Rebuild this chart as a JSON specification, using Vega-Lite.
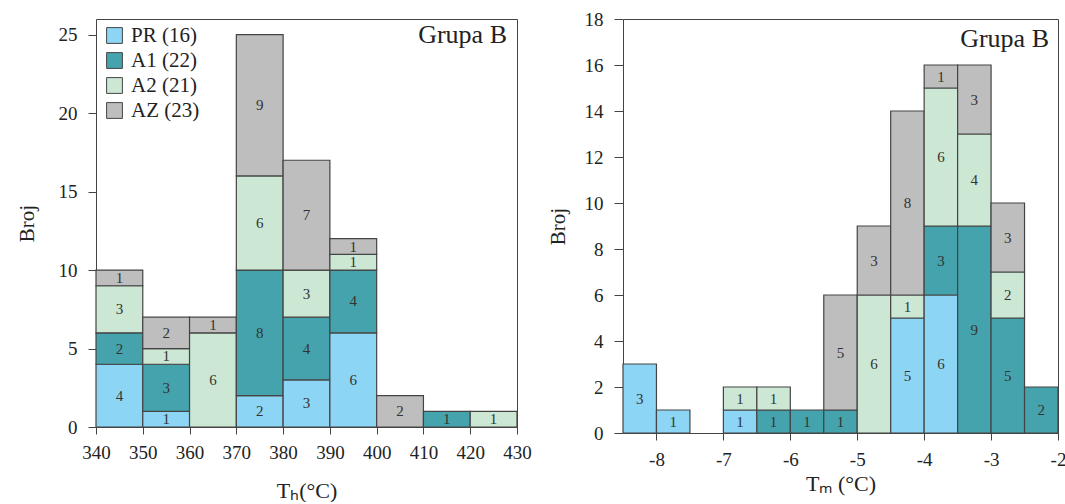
{
  "$schema": "https://vega.github.io/schema/vega-lite/v6.json",
  "background": "white",
  "padding": {"left": 15, "top": 9, "right": 0, "bottom": 0},
  "config": {
    "font": "Liberation Serif, Times New Roman, serif",
    "view": {"stroke": "#444", "strokeWidth": 1},
    "axis": {
      "grid": false,
      "domain": false,
      "labelFlush": false,
      "labelOverlap": false,
      "tickColor": "#444",
      "tickWidth": 1,
      "labelColor": "#222",
      "titleColor": "#222",
      "labelFont": "Liberation Serif, Times New Roman, serif",
      "titleFont": "Liberation Serif, Times New Roman, serif",
      "labelFontSize": 19,
      "titleFontSize": 22,
      "titleFontWeight": "normal"
    },
    "text": {"font": "Liberation Serif, Times New Roman, serif"},
    "legend": {
      "labelFont": "Liberation Serif, Times New Roman, serif",
      "labelFontSize": 21,
      "labelColor": "#222",
      "symbolType": "square",
      "symbolSize": 250,
      "symbolStrokeColor": "#444",
      "symbolStrokeWidth": 1,
      "symbolOpacity": 1,
      "rowPadding": 3,
      "labelOffset": 6,
      "padding": 0
    }
  },
  "datasets": {
    "th": [
      {"start": 340, "end": 350, "g": "PR (16)", "n": 4},
      {"start": 340, "end": 350, "g": "A1 (22)", "n": 2},
      {"start": 340, "end": 350, "g": "A2 (21)", "n": 3},
      {"start": 340, "end": 350, "g": "AZ (23)", "n": 1},
      {"start": 350, "end": 360, "g": "PR (16)", "n": 1},
      {"start": 350, "end": 360, "g": "A1 (22)", "n": 3},
      {"start": 350, "end": 360, "g": "A2 (21)", "n": 1},
      {"start": 350, "end": 360, "g": "AZ (23)", "n": 2},
      {"start": 360, "end": 370, "g": "A2 (21)", "n": 6},
      {"start": 360, "end": 370, "g": "AZ (23)", "n": 1},
      {"start": 370, "end": 380, "g": "PR (16)", "n": 2},
      {"start": 370, "end": 380, "g": "A1 (22)", "n": 8},
      {"start": 370, "end": 380, "g": "A2 (21)", "n": 6},
      {"start": 370, "end": 380, "g": "AZ (23)", "n": 9},
      {"start": 380, "end": 390, "g": "PR (16)", "n": 3},
      {"start": 380, "end": 390, "g": "A1 (22)", "n": 4},
      {"start": 380, "end": 390, "g": "A2 (21)", "n": 3},
      {"start": 380, "end": 390, "g": "AZ (23)", "n": 7},
      {"start": 390, "end": 400, "g": "PR (16)", "n": 6},
      {"start": 390, "end": 400, "g": "A1 (22)", "n": 4},
      {"start": 390, "end": 400, "g": "A2 (21)", "n": 1},
      {"start": 390, "end": 400, "g": "AZ (23)", "n": 1},
      {"start": 400, "end": 410, "g": "AZ (23)", "n": 2},
      {"start": 410, "end": 420, "g": "A1 (22)", "n": 1},
      {"start": 420, "end": 430, "g": "A2 (21)", "n": 1}
    ],
    "tm": [
      {"start": -8.5, "end": -8, "g": "PR (16)", "n": 3},
      {"start": -8, "end": -7.5, "g": "PR (16)", "n": 1},
      {"start": -7, "end": -6.5, "g": "PR (16)", "n": 1},
      {"start": -7, "end": -6.5, "g": "A2 (21)", "n": 1},
      {"start": -6.5, "end": -6, "g": "A1 (22)", "n": 1},
      {"start": -6.5, "end": -6, "g": "A2 (21)", "n": 1},
      {"start": -6, "end": -5.5, "g": "A1 (22)", "n": 1},
      {"start": -5.5, "end": -5, "g": "A1 (22)", "n": 1},
      {"start": -5.5, "end": -5, "g": "AZ (23)", "n": 5},
      {"start": -5, "end": -4.5, "g": "A2 (21)", "n": 6},
      {"start": -5, "end": -4.5, "g": "AZ (23)", "n": 3},
      {"start": -4.5, "end": -4, "g": "PR (16)", "n": 5},
      {"start": -4.5, "end": -4, "g": "A2 (21)", "n": 1},
      {"start": -4.5, "end": -4, "g": "AZ (23)", "n": 8},
      {"start": -4, "end": -3.5, "g": "PR (16)", "n": 6},
      {"start": -4, "end": -3.5, "g": "A1 (22)", "n": 3},
      {"start": -4, "end": -3.5, "g": "A2 (21)", "n": 6},
      {"start": -4, "end": -3.5, "g": "AZ (23)", "n": 1},
      {"start": -3.5, "end": -3, "g": "A1 (22)", "n": 9},
      {"start": -3.5, "end": -3, "g": "A2 (21)", "n": 4},
      {"start": -3.5, "end": -3, "g": "AZ (23)", "n": 3},
      {"start": -3, "end": -2.5, "g": "A1 (22)", "n": 5},
      {"start": -3, "end": -2.5, "g": "A2 (21)", "n": 2},
      {"start": -3, "end": -2.5, "g": "AZ (23)", "n": 3},
      {"start": -2.5, "end": -2, "g": "A1 (22)", "n": 2}
    ]
  },
  "bounds": "flush",
  "spacing": 106,
  "resolve": {"scale": {"color": "independent"}, "legend": {"color": "independent"}},
  "hconcat": [
    {
      "width": 421,
      "height": 408,
      "layer": [
        {
          "data": {"name": "th"},
          "transform": [
            {"calculate": "indexof(['PR (16)','A1 (22)','A2 (21)','AZ (23)'], datum.g)", "as": "ord"},
            {"stack": "n", "groupby": ["start"], "sort": [{"field": "ord", "order": "ascending"}], "as": ["y0", "y1"]}
          ],
          "mark": {"type": "bar", "stroke": "#444", "strokeWidth": 1.2, "opacity": 1},
          "encoding": {
            "x": {"field": "start", "type": "quantitative",
              "scale": {"domain": [340, 430], "nice": false, "zero": false},
              "axis": {"values": [340, 350, 360, 370, 380, 390, 400, 410, 420, 430], "title": "Tₕ(°C)", "tickSize": 7, "labelPadding": 9, "titlePadding": 18}},
            "x2": {"field": "end"},
            "y": {"field": "y0", "type": "quantitative",
              "scale": {"domain": [0, 26], "nice": false},
              "axis": {"values": [0, 5, 10, 15, 20, 25], "title": "Broj", "titleFontSize": 21, "tickSize": 8, "labelPadding": 11, "titlePadding": 21}},
            "y2": {"field": "y1"},
            "color": {"field": "g", "type": "nominal",
              "scale": {"domain": ["PR (16)", "A1 (22)", "A2 (21)", "AZ (23)"], "range": ["#8DD5F5", "#45A3AD", "#CCE8D4", "#BEBEBE"]},
              "legend": {"title": null, "orient": "none", "legendX": 8, "legendY": 6}}
          }
        },
        {
          "data": {"name": "th"},
          "transform": [
            {"calculate": "indexof(['PR (16)','A1 (22)','A2 (21)','AZ (23)'], datum.g)", "as": "ord"},
            {"stack": "n", "groupby": ["start"], "sort": [{"field": "ord", "order": "ascending"}], "as": ["y0", "y1"]},
            {"calculate": "(datum.y0 + datum.y1) / 2", "as": "ym"},
            {"calculate": "(datum.start + datum.end) / 2", "as": "xm"}
          ],
          "mark": {"type": "text", "fontSize": 15, "color": "#333", "baseline": "middle", "align": "center"},
          "encoding": {
            "x": {"field": "xm", "type": "quantitative"},
            "y": {"field": "ym", "type": "quantitative"},
            "text": {"field": "n", "type": "quantitative"}
          }
        },
        {
          "data": {"values": [{"label": "Grupa B"}]},
          "mark": {"type": "text", "align": "right", "baseline": "top", "fontSize": 26, "color": "#222", "dx": -10, "dy": 3},
          "encoding": {"x": {"datum": 430}, "y": {"datum": 26}, "text": {"field": "label"}}
        }
      ]
    },
    {
      "width": 435,
      "height": 414,
      "layer": [
        {
          "data": {"name": "tm"},
          "transform": [
            {"calculate": "indexof(['PR (16)','A1 (22)','A2 (21)','AZ (23)'], datum.g)", "as": "ord"},
            {"stack": "n", "groupby": ["start"], "sort": [{"field": "ord", "order": "ascending"}], "as": ["y0", "y1"]}
          ],
          "mark": {"type": "bar", "stroke": "#444", "strokeWidth": 1.2, "opacity": 1},
          "encoding": {
            "x": {"field": "start", "type": "quantitative",
              "scale": {"domain": [-8.5, -2], "nice": false, "zero": false},
              "axis": {"values": [-8, -7, -6, -5, -4, -3, -2], "labelExpr": "'' + datum.value", "title": "Tₘ (°C)", "tickSize": 7, "labelPadding": 10, "titlePadding": 4}},
            "x2": {"field": "end"},
            "y": {"field": "y0", "type": "quantitative",
              "scale": {"domain": [0, 18], "nice": false},
              "axis": {"values": [0, 2, 4, 6, 8, 10, 12, 14, 16, 18], "title": "Broj", "titleFontSize": 21, "tickSize": 9, "labelPadding": 11, "titlePadding": 16}},
            "y2": {"field": "y1"},
            "color": {"field": "g", "type": "nominal",
              "scale": {"domain": ["PR (16)", "A1 (22)", "A2 (21)", "AZ (23)"], "range": ["#8DD5F5", "#45A3AD", "#CCE8D4", "#BEBEBE"]},
              "legend": null}
          }
        },
        {
          "data": {"name": "tm"},
          "transform": [
            {"calculate": "indexof(['PR (16)','A1 (22)','A2 (21)','AZ (23)'], datum.g)", "as": "ord"},
            {"stack": "n", "groupby": ["start"], "sort": [{"field": "ord", "order": "ascending"}], "as": ["y0", "y1"]},
            {"calculate": "(datum.y0 + datum.y1) / 2", "as": "ym"},
            {"calculate": "(datum.start + datum.end) / 2", "as": "xm"}
          ],
          "mark": {"type": "text", "fontSize": 15, "color": "#333", "baseline": "middle", "align": "center"},
          "encoding": {
            "x": {"field": "xm", "type": "quantitative"},
            "y": {"field": "ym", "type": "quantitative"},
            "text": {"field": "n", "type": "quantitative"}
          }
        },
        {
          "data": {"values": [{"label": "Grupa B"}]},
          "mark": {"type": "text", "align": "right", "baseline": "top", "fontSize": 26, "color": "#222", "dx": -9, "dy": 7},
          "encoding": {"x": {"datum": -2}, "y": {"datum": 18}, "text": {"field": "label"}}
        }
      ]
    }
  ]
}
